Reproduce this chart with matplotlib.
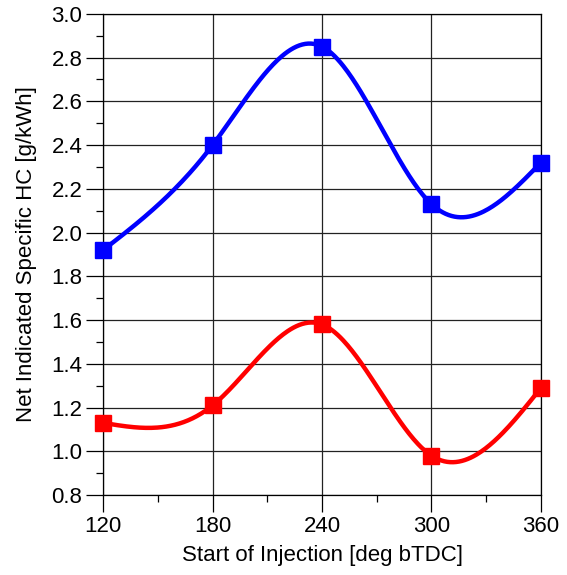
import numpy as np
import matplotlib
matplotlib.use("Agg")
import matplotlib.pyplot as plt
from matplotlib.ticker import MultipleLocator

plt.rcParams["font.family"] = ["Liberation Sans", "DejaVu Sans"]

soi = [120, 180, 240, 300, 360]
hc_blue = [1.92, 2.40, 2.85, 2.13, 2.32]
hc_red = [1.13, 1.21, 1.58, 0.98, 1.29]


def natural_spline(x, y, n=300):
    # natural cubic spline, just for drawing the smooth line through the points
    x = np.asarray(x, float)
    y = np.asarray(y, float)
    k = len(x)
    h = np.diff(x)
    A = np.zeros((k, k))
    b = np.zeros(k)
    A[0, 0] = A[-1, -1] = 1.0
    for i in range(1, k - 1):
        A[i, i - 1] = h[i - 1]
        A[i, i] = 2 * (h[i - 1] + h[i])
        A[i, i + 1] = h[i]
        b[i] = 6 * ((y[i + 1] - y[i]) / h[i] - (y[i] - y[i - 1]) / h[i - 1])
    m = np.linalg.solve(A, b)
    xs = np.linspace(x[0], x[-1], n)
    idx = np.clip(np.searchsorted(x, xs) - 1, 0, k - 2)
    x0, x1 = x[idx], x[idx + 1]
    hh = x1 - x0
    t0, t1 = x1 - xs, xs - x0
    ys = (m[idx] * t0 ** 3 / (6 * hh) + m[idx + 1] * t1 ** 3 / (6 * hh)
          + (y[idx] / hh - m[idx] * hh / 6) * t0
          + (y[idx + 1] / hh - m[idx + 1] * hh / 6) * t1)
    return xs, ys


fig = plt.figure(figsize=(5.67, 5.75), dpi=100)
ax = fig.add_axes([0.182, 0.139, 0.772, 0.837])

for ys, color in [(hc_blue, "#0000ff"), (hc_red, "#ff0000")]:
    sx, sy = natural_spline(soi, ys)
    ax.plot(sx, sy, color=color, linewidth=3.2, zorder=3, clip_on=False)
    ax.plot(soi, ys, linestyle="none", marker="s", markersize=11,
            color=color, zorder=4, clip_on=False)

ax.set_xlim(120, 360)
ax.set_ylim(0.8, 3.0)
ax.xaxis.set_major_locator(MultipleLocator(60))
ax.xaxis.set_minor_locator(MultipleLocator(30))
ax.yaxis.set_major_locator(MultipleLocator(0.2))
ax.yaxis.set_minor_locator(MultipleLocator(0.1))
ax.yaxis.set_major_formatter(matplotlib.ticker.FormatStrFormatter("%.1f"))
ax.grid(which="major", color="#222222", linewidth=0.9)
ax.tick_params(which="major", direction="out", length=12, width=0.9,
               labelsize=16, pad=3)
ax.tick_params(which="minor", direction="out", length=5, width=0.9)
for s in ax.spines.values():
    s.set_linewidth(0.9)

ax.set_xlabel("Start of Injection [deg bTDC]", fontsize=16, labelpad=6)
ax.set_ylabel("Net Indicated Specific HC [g/kWh]", fontsize=16, labelpad=10)

fig.savefig("out.png", dpi=100)
